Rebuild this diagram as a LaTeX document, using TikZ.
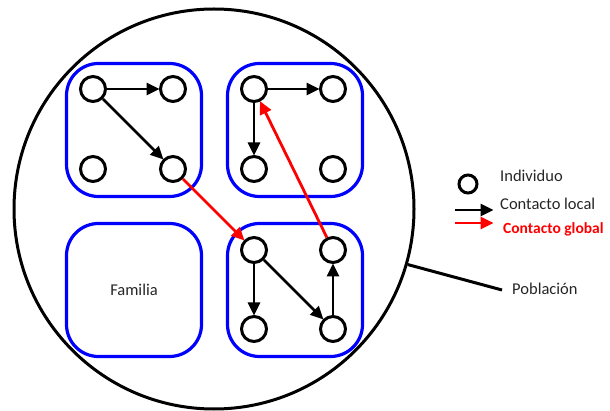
\documentclass[tikz,border=0pt]{standalone}
\usepackage{fontspec}
\setmainfont{Carlito}
\usetikzlibrary{arrows.meta}
\begin{document}
\begin{tikzpicture}[x=1pt,y=-1pt,
 ind/.style={circle,draw=black,line width=3pt,minimum size=25pt,inner sep=0pt},
 legind/.style={circle,draw=black,line width=3pt,minimum size=18pt,inner sep=0pt},
 fam/.style={draw=blue,line width=3.2pt,rounded corners=32pt,minimum width=135pt,minimum height=133pt,inner sep=0pt,font=\fontsize{16.5}{19}\selectfont,text=black!85},
 loc/.style={draw=black,line width=2.8pt,-{Triangle[length=13pt,width=12pt]},shorten >=-0.5pt},
 glob/.style={draw=red,line width=2.8pt,-{Triangle[length=13pt,width=12pt]},shorten >=-0.5pt},
 lbl/.style={font=\fontsize{16.5}{19}\selectfont,text=black!85,inner sep=0pt,anchor=west}]
\useasboundingbox (0,0) rectangle (610,411);
\fill[white] (0,0) rectangle (610,411);
% population
\node[circle,draw=black,line width=3pt,minimum size=400pt,inner sep=0pt] (pop) at (214,209) {};
% families
\node[fam] (f1) at (134,130) {};
\node[fam] (f2) at (295,130) {};
\node[fam] (f3) at (134,290) {Familia};
\node[fam] (f4) at (295,290) {};
% individuals
\node[ind] (a1) at (93,89) {};
\node[ind] (a2) at (173,89) {};
\node[ind] (a3) at (93,169) {};
\node[ind] (a4) at (173,169) {};
\node[ind] (b1) at (254,89) {};
\node[ind] (b2) at (333,89) {};
\node[ind] (b3) at (254,169) {};
\node[ind] (b4) at (333,169) {};
\node[ind] (d1) at (254,250) {};
\node[ind] (d2) at (333,250) {};
\node[ind] (d3) at (254,329) {};
\node[ind] (d4) at (333,329) {};
% local contacts
\draw[loc] (a1) -- (a2);
\draw[loc] (a1) -- (a4);
\draw[loc] (b1) -- (b2);
\draw[loc] (b1) -- (b3);
\draw[loc] (d1) -- (d3);
\draw[loc] (d1) -- (d4);
\draw[loc] (d4) -- (d2);
% global contacts
\draw[glob] (a4) -- (d1);
\draw[glob] (d2) -- (b1);
% legend
\node[legind] (li) at (468,184) {};
\node[lbl] (tind) at (500,176) {Individuo};
\coordinate (ls1) at (455,210);
\coordinate (le1) at (493,210);
\draw[loc] (ls1) -- (le1);
\node[lbl] (tloc) at (500,204) {Contacto local};
\coordinate (ls2) at (455,223);
\coordinate (le2) at (493,223);
\draw[glob] (ls2) -- (le2);
\node[lbl,text=red,font=\fontsize{15.5}{19}\selectfont\bfseries] (tglob) at (503,229) {Contacto global};
% poblacion
\node[lbl] (tpob) at (512,289) {Población};
\coordinate (pe) at (502,290);
\draw[line width=3pt] (pop.-16) -- (pe);
\end{tikzpicture}
\end{document}
